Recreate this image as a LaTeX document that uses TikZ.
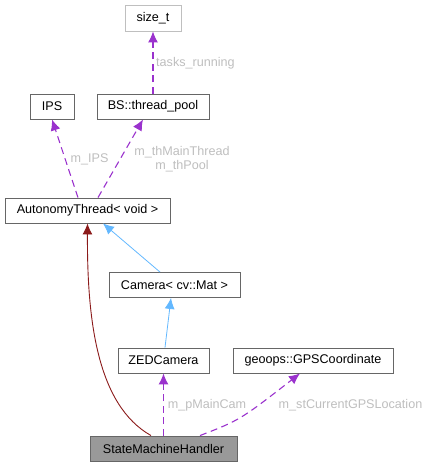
\documentclass[tikz,border=0pt]{standalone}
\usepackage{fontspec}
\setmainfont{Liberation Sans}
\usetikzlibrary{calc, shapes, arrows.meta}
\definecolor{boxline}{HTML}{666666}
\definecolor{boxfaint}{HTML}{BFBFBF}
\definecolor{boxfill}{HTML}{999999}
\definecolor{usecol}{HTML}{9A32CD}
\definecolor{inhcol}{HTML}{63B8FF}
\definecolor{tplcol}{HTML}{8B1A1A}
\definecolor{lblcol}{HTML}{BEBEBE}

\begin{document}
\begin{tikzpicture}[x=1pt, y=-1pt,
	cls/.style={draw=boxline, line width=0.9pt, minimum height=25pt, inner sep=0pt, font=\fontsize{12.6}{14}\selectfont},
	use/.style={draw=usecol, line width=1.1pt, dash pattern=on 7pt off 4.5pt, -{Latex[length=11pt, width=10pt, fill=usecol]}},
	inh/.style={inhcol, line width=0.8pt, -{Latex[length=11pt, width=10pt]}},
	lbl/.style={lblcol, inner sep=0pt, font=\fontsize{12.6}{14}\selectfont}]
	%Canvas
	\useasboundingbox (0,0) rectangle (431,467);
	%Class boxes
	\node [cls, draw=boxfaint, minimum width=56pt, minimum height=26pt] (sizet) at (153,18) {size\_t};
	\node [cls, minimum width=44pt] (ips) at (52,106.5) {IPS};
	\node [cls, minimum width=112pt] (pool) at (153,106.5) {BS::thread\_pool};
	\node [cls, minimum width=165pt] (autothread) at (87.5,210.5) {AutonomyThread< void >};
	\node [cls, minimum width=131pt] (camera) at (174.5,285) {Camera< cv::Mat >};
	\node [cls, minimum width=91pt] (zed) at (163.5,360.5) {ZEDCamera};
	\node [cls, minimum width=160pt] (gps) at (313,360.5) {geoops::GPSCoordinate};
	\node [cls, fill=boxfill, minimum width=147pt] (smh) at (163.5,448.5) {StateMachineHandler};
	%Usage edges
	\draw [use] (pool.north) -- (sizet.south);
	\draw [use] ([xshift=-9.5pt]autothread.north) -- (ips.south);
	\draw [use] ([xshift=10.5pt]autothread.north) -- ([xshift=-10pt]pool.south);
	\draw [use] (smh.north) -- (zed.south);
	\draw [use] ([xshift=36.5pt]smh.north) .. controls (240,420) .. ([xshift=-13pt]gps.south);
	%Inheritance edges
	\draw [inh] ([xshift=-14.5pt]camera.north) -- ([xshift=15.5pt]autothread.south);
	\draw [inh] ([xshift=1.5pt]zed.north) -- ([xshift=-3.5pt]camera.south);
	%Template instance edge
	\draw [tplcol, line width=0.9pt, -{Latex[length=11pt, width=10pt]}] ([xshift=-12.5pt]smh.north) .. controls (97,405) and (87,320) .. (autothread.south);
	%Edge labels
	\node [lbl, anchor=west] (lruns) at (156,63) {tasks\_running};
	\node [lbl] (lips) at (89.5,159) {m\_IPS};
	\node [lbl, align=center] (lpool) at (182,159.5) {m\_thMainThread\\m\_thPool};
	\node [lbl] (lcam) at (207,405) {m\_pMainCam};
	\node [lbl] (lgps) at (350.5,405) {m\_stCurrentGPSLocation};
\end{tikzpicture}
\end{document}
